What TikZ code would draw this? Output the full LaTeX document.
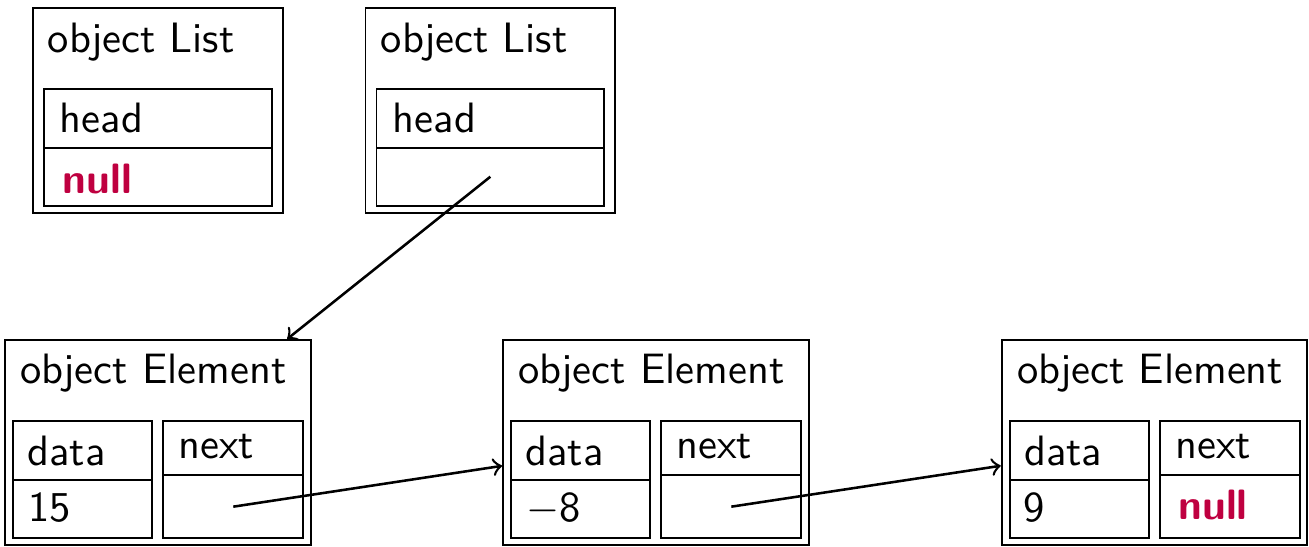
\documentclass[tikz,border=0pt]{standalone}
\usetikzlibrary{fit}
\definecolor{nullcol}{rgb}{0.75,0,0.25}
\begin{document}
\begin{tikzpicture}[x=0.2353pt,y=-0.2353pt,
  font=\sffamily\fontsize{10}{12}\selectfont,
  box/.style={draw, line width=0.45pt, inner sep=0pt},
  txt/.style={anchor=base west, inner sep=0pt},
  nul/.style={txt, text=nullcol, font=\sffamily\bfseries\fontsize{10}{12}\selectfont},
  ptr/.style={->, line width=0.6pt}]
\useasboundingbox (0,0) rectangle (1309,546);
% List 1
\node[box, fit={(32.7,8.3)(282.7,213.3)}] (l1) {};
\node[box, fit={(44,89.3)(271.7,147.7)}] (l1h) {};
\node[box, fit={(44,147.7)(271.7,205.7)}] (l1v) {};
\node[txt] (l1t) at (47,52) {object List};
\node[txt] (l1ht) at (59,132) {head};
\node[nul] (l1vt) at (62,193) {null};
% List 2
\node[box, fit={(365.5,8.3)(615.2,213.3)}] (l2) {};
\node[box, fit={(376.5,89.3)(604.2,147.7)}] (l2h) {};
\node[box, fit={(376.5,147.7)(604.2,205.7)}] (l2v) {};
\node[txt] (l2t) at (380,52) {object List};
\node[txt] (l2ht) at (392,132) {head};
% Element 1
\node[box, fit={(5,340)(310.7,545)}] (e1) {};
\node[box, fit={(13.3,420.7)(152.3,480)}] (e1dh) {};
\node[box, fit={(13.3,480)(152.3,538.3)}] (e1dv) {};
\node[box, fit={(163.3,420.7)(303.3,475)}] (e1nh) {};
\node[box, fit={(163.3,475)(303.3,538.3)}] (e1nv) {};
\node[txt] (e1t) at (19.5,383) {object Element};
\node[txt] (e1dht) at (26.5,465) {data};
\node[txt] (e1dvt) at (27.5,521.5) {15};
\node[txt] (e1nht) at (177.5,458) {next};
% Element 2
\node[box, fit={(503,340)(808.7,545)}] (e2) {};
\node[box, fit={(511.3,420.7)(650.3,480)}] (e2dh) {};
\node[box, fit={(511.3,480)(650.3,538.3)}] (e2dv) {};
\node[box, fit={(661.3,420.7)(801.3,475)}] (e2nh) {};
\node[box, fit={(661.3,475)(801.3,538.3)}] (e2nv) {};
\node[txt] (e2t) at (517.5,383) {object Element};
\node[txt] (e2dht) at (524.5,465) {data};
\node[txt] (e2dvt) at (525.5,521.5) {\(-\)8};
\node[txt] (e2nht) at (675.5,458) {next};
% Element 3
\node[box, fit={(1001.7,340)(1306.7,545)}] (e3) {};
\node[box, fit={(1010,420.7)(1149,480)}] (e3dh) {};
\node[box, fit={(1010,480)(1149,538.3)}] (e3dv) {};
\node[box, fit={(1160,420.7)(1300,475)}] (e3nh) {};
\node[box, fit={(1160,475)(1300,538.3)}] (e3nv) {};
\node[txt] (e3t) at (1016.2,383) {object Element};
\node[txt] (e3dht) at (1023.2,465) {data};
\node[txt] (e3dvt) at (1022.5,521.5) {9};
\node[txt] (e3nht) at (1174.5,458) {next};
\node[nul] (e3nvt) at (1177.5,519) {null};
% pointers
\draw[ptr] (l2v.center) -- (e1);
\draw[ptr] (e1nv.center) -- (e2);
\draw[ptr] (e2nv.center) -- (e3);
\end{tikzpicture}
\end{document}
